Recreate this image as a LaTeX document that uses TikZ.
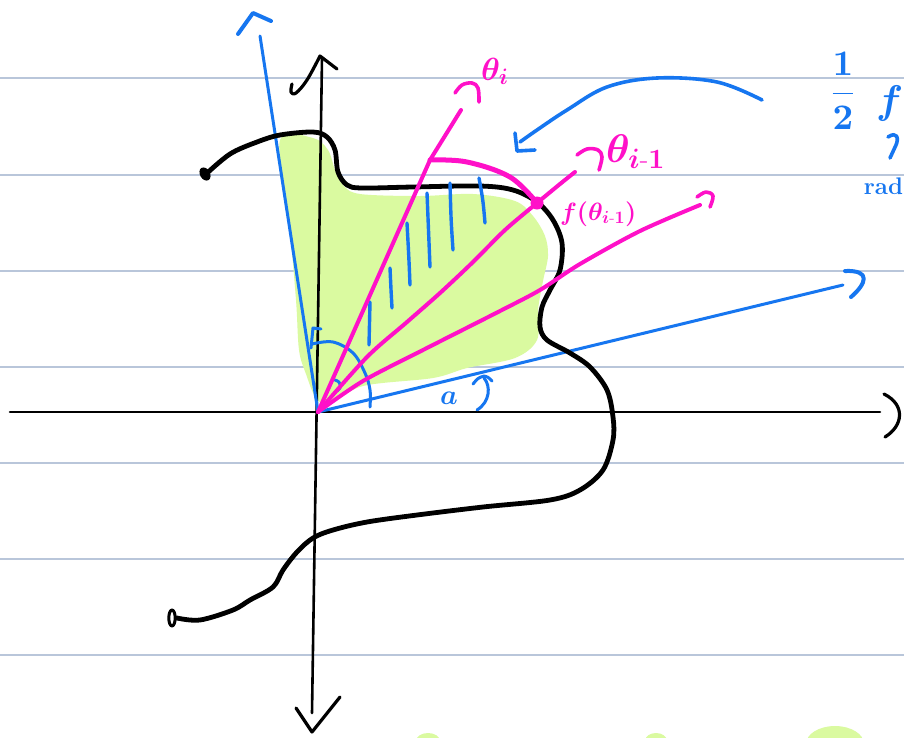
\documentclass[tikz,border=0pt]{standalone}
\usepackage{amsmath}
\DeclareFontShape{OML}{cmm}{m}{it}{<->cmmi10}{}
\DeclareFontShape{OML}{cmm}{b}{it}{<->cmmib10}{}
\DeclareFontShape{OT1}{cmr}{m}{n}{<->cmr10}{}
\DeclareFontShape{OT1}{cmr}{bx}{n}{<->cmbx10}{}
\DeclareFontShape{OMS}{cmsy}{m}{n}{<->cmsy10}{}
\DeclareFontShape{OMS}{cmsy}{b}{n}{<->cmbsy10}{}
\begin{document}
\begin{tikzpicture}[x=1pt,y=-1pt,line cap=round,line join=round]
\definecolor{rulec}{RGB}{185,198,218}
\definecolor{inkblue}{RGB}{22,118,240}
\definecolor{inkpink}{RGB}{255,16,200}
\definecolor{hilite}{RGB}{218,250,160}
\tikzset{
  rule/.style={draw=rulec,line width=1.6pt},
  axis/.style={draw=black,line width=2.6pt},
  curve/.style={draw=black,line width=4.8pt},
  bline/.style={draw=inkblue,line width=3pt},
  pline/.style={draw=inkpink,line width=4pt},
  hatch/.style={draw=inkblue,line width=3.4pt},
  lbl/.style={inner sep=0pt,outer sep=0pt,anchor=base west}
}
\clip (0,0) rectangle (904,737);
\fill[white] (0,0) rectangle (904,737);
% notebook rules
\foreach \yy in {78,175,271,367,463,559,655} \draw[rule] (0,\yy) -- (904,\yy);
% highlighted region
\fill[hilite] plot[smooth cycle,tension=0.55] coordinates {(280,140) (313,138) (328,150) (335,170) (343,185) (360,194) (420,196) (473,194) (515,201) (533,216) (545,236) (548,256) (543,281) (538,310) (537,340) (515,358) (467,368) (433,378) (363,386) (330,404) (316,398) (306,374) (299,350) (296,300) (289,220)};
\fill[hilite] (428,741) ellipse (12 and 8);
\fill[hilite] (656,741) ellipse (11 and 8);
\fill[hilite] (835,744) ellipse (29 and 18);
% origin
\coordinate (O) at (318,412);
% black axes
\coordinate (xl) at (10,412);
\coordinate (xr) at (880,412);
\draw[axis] (xl) -- (xr);
\draw[axis,line width=3.2pt] (884,394) .. controls (906,405) and (903,426) .. (885,437);
\coordinate (yt) at (322,58);
\coordinate (yb) at (312,713);
\draw[axis] (yt) -- (yb);
\draw[axis,line width=3.2pt] plot[smooth,tension=0.6] coordinates {(292,84) (291,92) (296,93) (307,80) (320,56)} -- (337,69);
\draw[axis,line width=3.2pt] (296,708) -- (312,732) -- (340,697);
% blue axes
\coordinate (bt) at (260,36);
\coordinate (br) at (843,285);
\draw[bline] (O) -- (bt);
\draw[bline,line width=4pt] (238,34) -- (253,13) -- (271,21);
\draw[bline] (O) -- (br);
\draw[bline,line width=4pt] (845,271) .. controls (872,270) and (866,284) .. (851,297);
% black curve
\draw[curve] plot[smooth,tension=0.55] coordinates {(205,175) (230,154) (257,142) (280,135) (313,132) (327,137) (335,150) (338,172) (347,185) (362,188) (413,187) (480,186) (513,190) (537,202) (553,220) (562,243) (560,270) (550,290) (542,307) (540,327) (547,340) (570,353) (590,367) (607,390) (613,417) (613,440) (603,470) (580,490) (550,500) (483,507) (417,515) (367,522) (333,530) (313,538) (297,552) (283,570) (273,587) (250,600) (233,610) (200,620) (177,618)};
\fill[rotate around={30:(205,174)}] (205,174) ellipse (5 and 7);
\draw[line width=3pt] (172,618) ellipse (3.2 and 8);
% hatching
\draw[hatch] (370,302) -- (369,345);
\draw[hatch] (390,268) .. controls (391,290) .. (392,308);
\draw[hatch] (407,223) .. controls (409,260) .. (410,285);
\draw[hatch] (427,193) .. controls (428,230) .. (430,267);
\draw[hatch] (450,183) .. controls (451,220) .. (453,250);
\draw[hatch] (479,178) .. controls (483,200) .. (485,223);
% angle marks
\draw[bline] plot[smooth,tension=0.6] coordinates {(312,344) (333,342) (353,353) (365,373) (370,390) (370,407)};
\draw[bline] (321,329) -- (313,328) -- (311,348);
\draw[bline] (335,380) .. controls (342,382) and (342,388) .. (337,391);
\draw[bline] (477,410) .. controls (490,402) and (491,386) .. (484,378);
\draw[bline] (473,384) .. controls (478,378) .. (484,376) .. controls (488,377) .. (492,381);
% pink rays
\coordinate (P) at (537,203);
\coordinate (Q) at (430,160);
\draw[pline] (O) -- (Q) -- (461,110);
\draw[pline] plot[smooth,tension=0.5] coordinates {(318,412) (367,357) (407,322) (440,293) (473,262) (505,230) (537,203) (560,184) (575,172)};
\draw[pline] plot[smooth,tension=0.5] coordinates {(318,412) (363,381) (423,350) (500,311) (540,290) (580,264) (640,231) (700,205)};
\draw[pline,line width=5pt] plot[smooth,tension=0.6] coordinates {(Q) (467,162) (510,177) (P)};
\fill[inkpink] (P) circle (6.5);
% pink hooks
\draw[pline,line width=3.6pt] plot[smooth,tension=0.6] coordinates {(455,93) (462,85) (472,83) (478,88) (479,102)};
\draw[pline,line width=3.6pt] plot[smooth,tension=0.6] coordinates {(577,155) (587,149) (598,150) (602,157) (599,170)};
\draw[pline,line width=3.6pt] plot[smooth,tension=0.6] coordinates {(697,197) (706,192) (713,196) (710,207)};
% blue curved arrow
\draw[bline,line width=3.6pt] plot[smooth,tension=0.6] coordinates {(762,100) (717,82) (657,78) (607,87) (567,110) (537,130) (520,142)};
\draw[bline,line width=3.6pt] (515,133) -- (517,151) -- (535,150);
% right margin note
\draw[bline,line width=3.6pt] (888,137) .. controls (897,131) and (899,138) .. (896,145) -- (890,158);
% labels
\node[lbl,text=inkpink,font=\fontsize{32}{34}\selectfont\boldmath] (ti) at (481,80) {$\theta_i$};
\node[lbl,text=inkpink,font=\fontsize{40}{42}\selectfont\boldmath] (ti1) at (606,162) {$\theta_{i\text{-}1}$};
\node[lbl,text=inkpink,font=\fontsize{25}{27}\selectfont\boldmath] (fl) at (560,220) {$f(\theta_{i\text{-}1})$};
\node[lbl,text=inkblue,font=\fontsize{28}{30}\selectfont\boldmath] (al) at (440,404) {$a$};
\node[lbl,text=inkblue,font=\fontsize{36}{38}\selectfont\boldmath,anchor=center] (half) at (843,91) {$\dfrac{1}{2}$};
\node[lbl,text=inkblue,font=\fontsize{40}{42}\selectfont\boldmath] (ff) at (876,113) {$f$};
\node[lbl,text=inkblue,font=\fontsize{24}{26}\selectfont\bfseries,anchor=base east] (rad) at (903,194) {rad};
\end{tikzpicture}
\end{document}
